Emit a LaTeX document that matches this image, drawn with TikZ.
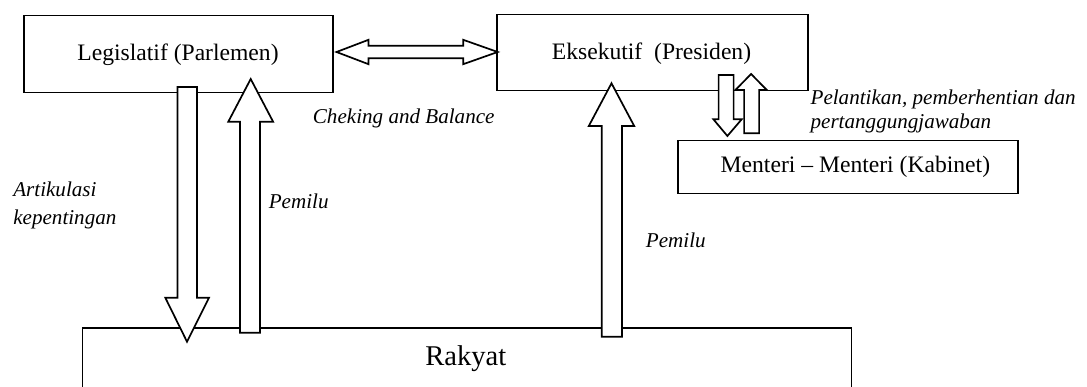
\documentclass[tikz,border=0pt]{standalone}
\usepackage{fontspec}
\setmainfont{Liberation Serif}
\begin{document}
\begin{tikzpicture}[x=1pt,y=-1pt,
  box/.style={draw, line width=1.5pt, fill=white, inner sep=0pt, anchor=north west},
  blk/.style={draw, line width=1.7pt, fill=white, line join=miter},
  lab/.style={font=\fontsize{21.1pt}{25pt}\selectfont\itshape, anchor=base west, inner sep=0pt},
  txt/.style={font=\fontsize{23.6pt}{28pt}\selectfont, inner sep=0pt}]
\useasboundingbox (0,0) rectangle (1087,387);
\clip (0,0) rectangle (1087,387);
% boxes
\node[box, minimum width=309pt, minimum height=77pt] (leg) at (23.4,15) {};
\node[box, minimum width=311pt, minimum height=76pt] (eks) at (496,14) {};
\node[box, minimum width=340pt, minimum height=53pt] (men) at (677,140) {};
\node[box, minimum width=769pt, minimum height=100pt] (rak) at (81.6,327.3) {};
% texts
\node[txt, anchor=base] (legt) at (178,61) {Legislatif (Parlemen)};
\node[txt, anchor=base] (ekst) at (651.5,60) {Eksekutif\ \ (Presiden)};
\node[txt, anchor=base] (ment) at (855.4,173) {Menteri -- Menteri (Kabinet)};
\node[inner sep=0pt, anchor=base, font=\fontsize{28.6pt}{33pt}\selectfont] (rakt) at (465.8,365) {Rakyat};
% double arrow between legislatif and eksekutif
\draw[blk] (336.5,52) -- (368.5,39.8) -- (368.5,45.7) -- (463.2,45.7) -- (463.2,39.8)
  -- (497.7,52) -- (463.2,64.2) -- (463.2,58.3) -- (368.5,58.3) -- (368.5,64.2) -- cycle;
% legislatif down arrow (artikulasi)
\draw[blk] (177.4,87) -- (197,87) -- (197,297.7) -- (209,297.7) -- (187,341.7)
  -- (165.3,297.7) -- (177.4,297.7) -- cycle;
% legislatif up arrow (pemilu)
\draw[blk] (240,332.7) -- (260,332.7) -- (260,121.7) -- (273.1,121.7) -- (250.7,79)
  -- (228.3,121.7) -- (240,121.7) -- cycle;
% eksekutif up arrow (pemilu)
\draw[blk] (601.8,336.7) -- (622,336.7) -- (622,126) -- (634.2,126) -- (611.5,83.3)
  -- (588.8,126) -- (601.8,126) -- cycle;
% small down arrow
\draw[blk] (718.6,75) -- (733.6,75) -- (733.6,119.3) -- (741.7,119.3) -- (727.4,136)
  -- (713.4,119.3) -- (718.6,119.3) -- cycle;
% small up arrow
\draw[blk] (744.1,133.3) -- (759.1,133.3) -- (759.1,90) -- (766.8,90) -- (751.1,74)
  -- (735.4,90) -- (744.1,90) -- cycle;
% labels
\node[lab] (chk) at (312.7,124) {Cheking and Balance};
\node[lab] (pel1) at (810.4,105) {Pelantikan, pemberhentian dan};
\node[lab] (pel2) at (810.4,129) {pertanggungjawaban};
\node[lab] (art1) at (13.1,197) {Artikulasi};
\node[lab] (art2) at (13.1,225) {kepentingan};
\node[lab] (pem1) at (268.6,209) {Pemilu};
\node[lab] (pem2) at (645.7,248) {Pemilu};
\end{tikzpicture}
\end{document}
